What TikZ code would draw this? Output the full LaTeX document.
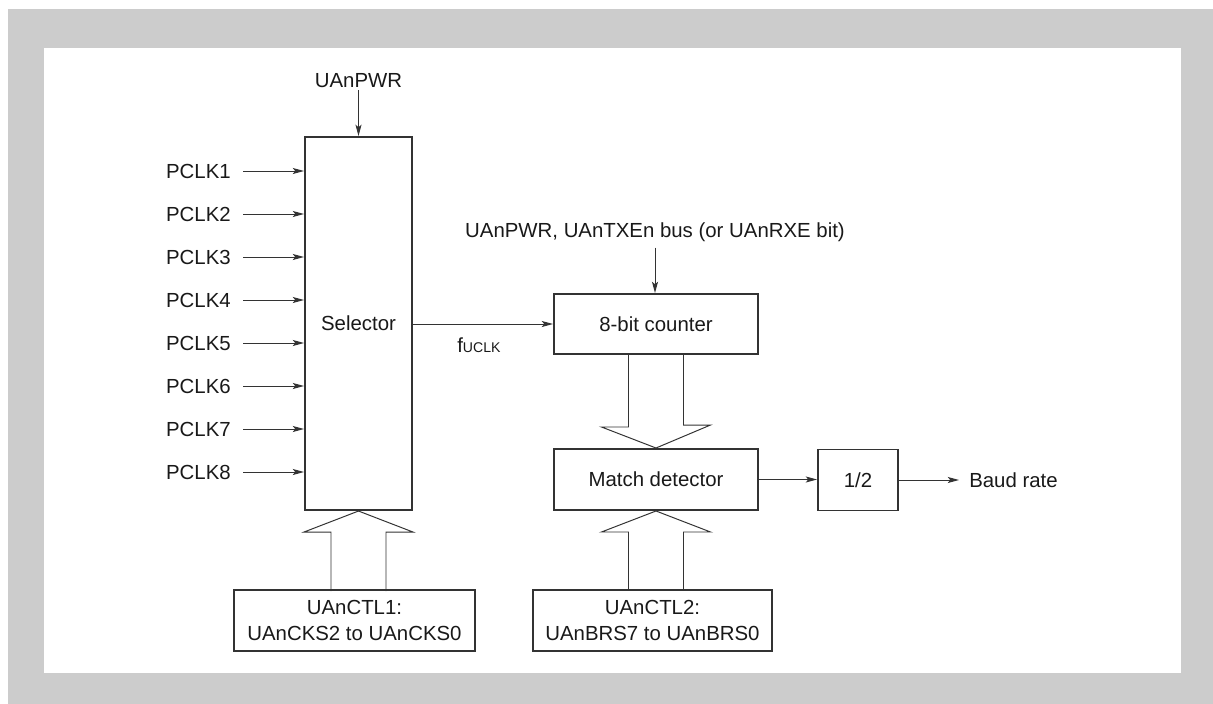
\documentclass[tikz,border=0pt]{standalone}
\usepackage{fontspec}
\setmainfont{Liberation Sans}
\usetikzlibrary{arrows.meta,calc,positioning}
\definecolor{frame}{HTML}{CCCCCC}
\definecolor{ink}{HTML}{333333}

\begin{document}
\begin{tikzpicture}[
  x=0.025cm,y=-0.025cm,
  >={Stealth[length=2.8mm,width=1.5mm,inset=0.6mm]},
  every node/.style={font=\fontsize{14.5}{18.5}\selectfont,text=black!90},
  box/.style={draw=ink,line width=1.4pt,inner sep=0pt,align=center},
  sig/.style={->,draw=ink,line width=0.7pt},
  bus/.style={draw=ink,line width=0.7pt,line join=miter},
  lab/.style={inner xsep=0.3cm,inner ysep=0pt}
]
\useasboundingbox (0,0) rectangle (1213,704);
\fill[frame] (8,9) rectangle (1213,704);
\fill[white] (44,48) rectangle (1181,673);

\node[box,minimum width=2.675cm,minimum height=9.325cm] (sel) at (358.5,323.5) {Selector};
\node[box,minimum width=5.1cm,minimum height=1.5cm] (cnt) at (656,324) {8-bit counter};
\node[box,minimum width=5.1cm,minimum height=1.525cm] (mat) at (656,479.5) {Match detector};
\node[box,minimum width=2cm,minimum height=1.525cm] (half) at (858,480) {1/2};
\node[box,minimum width=6.025cm,minimum height=1.525cm] (ctla) at (354.5,620.5) {UAnCTL1:\\UAnCKS2 to UAnCKS0};
\node[box,minimum width=5.975cm,minimum height=1.525cm] (ctlb) at (652.5,620.5) {UAnCTL2:\\UAnBRS7 to UAnBRS0};

\node[anchor=base,inner xsep=0pt,inner ysep=0.075cm] (pwr) at (358.5,87) {UAnPWR};
\node[anchor=base,inner xsep=0pt,inner ysep=0.15cm] (bustx) at (655,237) {UAnPWR, UAnTXEn bus (or UAnRXE bit)};
\node[anchor=base west,inner sep=0pt] (fu) at (457,352) {f{\fontsize{10}{12}\selectfont UCLK}};
\node[lab,anchor=west,inner xsep=0.25cm] (baud) at (959,480) {Baud rate};

\foreach \i in {1,...,8}
  \node[lab,anchor=east] (p\i) at (243,{171+43*(\i-1)}) {PCLK\i};
\foreach \i in {1,...,8}
  \draw[sig] (p\i.east) -- (p\i.east -| sel.west);

\draw[sig] (pwr.south) -- (pwr.south |- sel.north);
\draw[sig] (bustx.south) -- (bustx.south |- cnt.north);
\draw[sig] (sel.east |- cnt.west) -- (cnt.west);
\draw[sig] (mat.east) -- (mat.east -| half.west);
\draw[sig] (half.east) -- (half.east -| baud.west);

\draw[bus] ($(sel.south)+(-27.5,80)$) -- ++(0,-59) -- ++(-27,0) -- (sel.south)
  -- ++(54.5,21) -- ++(-27,0) -- ++(0,59);
\draw[bus] ($(mat.south)+(-27.5,80)$) -- ++(0,-59) -- ++(-27,0) -- (mat.south)
  -- ++(54.5,21) -- ++(-27,0) -- ++(0,59);
\draw[bus] ($(cnt.south)+(-27.5,0)$) -- ++(0,72) -- ++(-27,0) -- (mat.north)
  -- ++(54.5,-23) -- ++(-27,0) -- ++(0,-72);

\end{tikzpicture}
\end{document}
